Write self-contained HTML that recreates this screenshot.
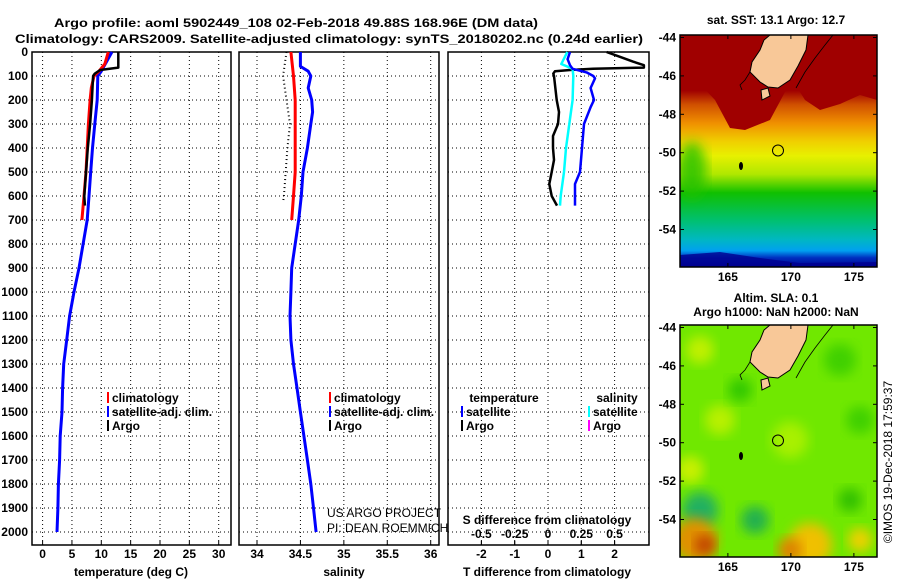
<!DOCTYPE html>
<html><head><meta charset="utf-8">
<style>
body{margin:0;background:#fff;}
svg{display:block;font-family:"Liberation Sans",sans-serif;}
.b{font-weight:bold;font-size:12px;}
</style></head>
<body>
<svg id="chart" width="900" height="580" viewBox="0 0 900 580" xmlns="http://www.w3.org/2000/svg">
<defs>
<linearGradient id="sstg" x1="0" y1="0" x2="0" y2="1">
<stop offset="0" stop-color="#a00000"/>
<stop offset="0.24" stop-color="#a00000"/>
<stop offset="0.3" stop-color="#d05000"/>
<stop offset="0.38" stop-color="#f09000"/>
<stop offset="0.46" stop-color="#f0d000"/>
<stop offset="0.52" stop-color="#e8f000"/>
<stop offset="0.6" stop-color="#b0e800"/>
<stop offset="0.68" stop-color="#10c000"/>
<stop offset="0.8" stop-color="#00c070"/>
<stop offset="0.88" stop-color="#00b8c0"/>
<stop offset="0.93" stop-color="#00a0f0"/>
<stop offset="0.96" stop-color="#0030c0"/>
<stop offset="1" stop-color="#000090"/>
</linearGradient>
<filter id="blur" x="-20%" y="-20%" width="140%" height="140%"><feGaussianBlur stdDeviation="6"/></filter>
<clipPath id="m1c"><rect x="680" y="35" width="197" height="232"/></clipPath>
<clipPath id="m2c"><rect x="680" y="325" width="197" height="232"/></clipPath>
</defs>
<text x="54" y="27" class="b" font-size="13" textLength="484" lengthAdjust="spacingAndGlyphs">Argo profile: aoml 5902449_108 02-Feb-2018 49.88S 168.96E (DM data)</text>
<text x="15" y="43" class="b" font-size="13" textLength="628" lengthAdjust="spacingAndGlyphs">Climatology: CARS2009. Satellite-adjusted climatology: synTS_20180202.nc (0.24d earlier)</text>
<g id="plots"></g>
<g id="maps"></g>
</svg>
<script>
// ---- data ----
const tempSatDepth = [0,80,100,200,300,400,500,600,700,800,900,1000,1100,1200,1300,1400,1500,1600,1700,1800,1900,2000];
const tempSatVal   = [11.8,10,9.4,9.3,8.9,8.5,8.2,7.9,7.6,6.9,6.2,5.35,4.6,4.1,3.6,3.4,3.3,3.0,2.9,2.7,2.6,2.45];
const tempClimDepth = [0,50,80,100,150,200,300,400,500,600,700];
const tempClimVal   = [11.2,10.6,9.6,8.75,8.3,8.1,7.8,7.6,7.4,7.05,6.7];
const tempArgoDepth = [0,65,75,90,100,200,300,400,500,600,640];
const tempArgoVal   = [12.9,12.9,9.8,8.9,8.6,8.4,8.1,7.7,7.4,7.1,7.2];
const salClimDepth = [0,100,200,300,400,500,600,700];
const salClimVal   = [34.39,34.42,34.44,34.44,34.44,34.44,34.42,34.40];
const salSatDepth = [0,60,80,100,150,200,250,300,400,500,600,700,800,900,1000,1100,1200,1300,1400,1500,1600,1700,1800,1900,2000];
const salSatVal   = [34.5,34.5,34.59,34.62,34.59,34.63,34.64,34.62,34.58,34.53,34.51,34.48,34.44,34.40,34.39,34.38,34.39,34.42,34.46,34.50,34.54,34.58,34.62,34.65,34.68];
const salArgoDepth = [0,100,200,300,400,500,600,625];
const salArgoVal   = [34.34,34.30,34.34,34.38,34.35,34.33,34.31,34.30];
const dTArgoDepth = [0,20,40,55,65,70,75,80,90,100,200,250,300,350,400,450,500,550,600,640];
const dTArgoVal   = [1.76,2.16,2.55,2.88,2.88,1.35,0.66,0.21,0.16,0.18,0.26,0.33,0.30,0.15,0.15,0.18,0.11,0.04,0.11,0.27];
const dTSatDepth = [0,30,55,70,85,100,110,150,200,230,300,400,500,550,640];
const dTSatVal   = [0.66,0.59,0.66,0.74,1.16,1.36,1.41,1.28,1.38,1.28,1.08,1.02,0.96,0.81,0.81];
const dSSatDepth = [0,50,70,100,200,300,400,500,600,640];
const dSSatVal   = [0.145,0.10,0.185,0.19,0.185,0.16,0.135,0.12,0.095,0.09];
const depthTicks = [0,100,200,300,400,500,600,700,800,900,1000,1100,1200,1300,1400,1500,1600,1700,1800,1900,2000];
const tempTicks = [0,5,10,15,20,25,30];
const salTicks = [34,34.5,35,35.5,36];
const salTickLabels = ["34","34.5","35","35.5","36"];
const dTTicks = [-2,-1,0,1,2];
const dSTicks = [-0.5,-0.25,0,0.25,0.5];
const dSTickLabels = ["-0.5","-0.25","0","0.25","0.5"];
const latTicks = [-44,-46,-48,-50,-52,-54];
const lonTicks = [165,170,175];

// ---- axes ----
const NS="http://www.w3.org/2000/svg";
const yD = d => 52 + d*0.24;
const xT = t => 42.6 + t*5.87;
const xS = s => 257 + (s-34)*86.85;
const xDT = v => 548 + v*33.3;
const xDS = v => 548 + v*133.2;
const lon2x = l => 680 + (l-161.2)*12.6;

function mk(tag, attrs, parent){const e=document.createElementNS(NS,tag);for(const k in attrs)e.setAttribute(k,attrs[k]);(parent||G).appendChild(e);return e;}
const G=document.getElementById('plots');
const panels=[{x0:32,x1:231,name:'temperature-panel'},{x0:239,x1:439,name:'salinity-panel'},{x0:448,x1:649,name:'difference-panel'}];
const TOP=52,BOT=545;

function gridV(xs){xs.forEach(x=>{const l=mk('line',{x1:x,x2:x,y1:TOP,y2:BOT,stroke:'#000','stroke-width':1,'stroke-dasharray':'1,3'});

});}
function gridH(p){depthTicks.forEach(d=>{if(d===0)return;const l=mk('line',{x1:p.x0,x2:p.x1,y1:yD(d),y2:yD(d),stroke:'#000','stroke-width':1,'stroke-dasharray':'1,3'});

});}
panels.forEach(p=>{gridH(p);});
gridV(tempTicks.map(xT));
gridV(salTicks.map(xS));
gridV(dTTicks.map(xDT));
panels.forEach(p=>{
 const r=mk('rect',{x:p.x0,y:TOP,width:p.x1-p.x0,height:BOT-TOP,fill:'none',stroke:'#000','stroke-width':1.5});
 
 
});
depthTicks.forEach(d=>{const t=mk('text',{x:28,y:yD(d)+4,'text-anchor':'end',class:'b'});t.textContent=d;

});
function xlabels(ticks,labels,fx,y){ticks.forEach((v,i)=>{const t=mk('text',{x:fx(v),y:y,'text-anchor':'middle',class:'b'});t.textContent=labels?labels[i]:v;


mk('line',{x1:fx(v),x2:fx(v),y1:BOT,y2:BOT-4,stroke:'#000'});});}
xlabels(tempTicks,null,xT,558);
xlabels(salTicks,salTickLabels,xS,558);
xlabels(dTTicks,null,xDT,558);
xlabels(dSTicks,dSTickLabels,xDS,538);
function title(x,y,s,n){const t=mk('text',{x:x,y:y,'text-anchor':'middle',class:'b'});t.textContent=s;

}
title(131,576,'temperature (deg C)','x-axis-title-temperature');
title(344,576,'salinity','x-axis-title-salinity');
title(547,576,'T difference from climatology','x-axis-title-t-difference');
title(547,524,'S difference from climatology','axis-title-s-difference');

function line(ds,vs,fx,color,w,dash,name){
 const pts=ds.map((d,i)=>fx(vs[i]).toFixed(1)+','+yD(d).toFixed(1)).join(' ');
 const a={points:pts,fill:'none',stroke:color,'stroke-width':w,'stroke-linejoin':'round'};
 if(dash)a['stroke-dasharray']=dash;
 const l=mk('polyline',a);
 
 
}
line(tempSatDepth,tempSatVal,xT,'#0000ff',3,null,'temperature-satellite-line');
line(tempClimDepth,tempClimVal,xT,'#ff0000',3,null,'temperature-climatology-line');
line(tempArgoDepth,tempArgoVal,xT,'#000',2.5,null,'temperature-argo-line');
line(salSatDepth,salSatVal,xS,'#0000ff',3,null,'salinity-satellite-line');
line(salClimDepth,salClimVal,xS,'#ff0000',3,null,'salinity-climatology-line');
line(salArgoDepth,salArgoVal,xS,'#000',2,'1,3','salinity-argo-line');
line(dTArgoDepth,dTArgoVal,xDT,'#000',2.5,null,'t-diff-argo-line');
line(dSSatDepth,dSSatVal,xDS,'#00ffff',2.5,null,'s-diff-satellite-line');
line(dTSatDepth,dTSatVal,xDT,'#0000ff',2.5,null,'t-diff-satellite-line');

function legendItem(x,y,color,s,n){
 mk('line',{x1:x,x2:x,y1:y-10,y2:y+1,stroke:color,'stroke-width':2});
 const t=mk('text',{x:x+4,y:y,class:'b'});t.textContent=s;
 
 
}
legendItem(108,402,'#ff0000','climatology','legend-climatology');
legendItem(108,416,'#0000ff','satellite-adj. clim.','legend-satellite-adj');
legendItem(108,430,'#000','Argo','legend-argo');
legendItem(330,402,'#ff0000','climatology','legend-sal-climatology');
legendItem(330,416,'#0000ff','satellite-adj. clim.','legend-sal-satellite-adj');
legendItem(330,430,'#000','Argo','legend-sal-argo');
title(504,402,'temperature','legend-header-temperature');
title(617,402,'salinity','legend-header-salinity');
legendItem(462,416,'#0000ff','satellite','legend-t-satellite');
legendItem(462,430,'#000','Argo','legend-t-argo');
legendItem(589,416,'#00ffff','satellite','legend-s-satellite');
legendItem(589,430,'#ff00ff','Argo','legend-s-argo');
const c1=mk('text',{x:327,y:517,'font-size':12});c1.textContent='US ARGO PROJECT';


const c2=mk('text',{x:327,y:532,'font-size':12});c2.textContent='PI: DEAN ROEMMICH';



// ---- maps ----
const M=document.getElementById('maps');
function land(top,g){
 const o=top-35;
 const p=mk('polygon',{points:`770,${35+o} 808,${35+o} 806,${50+o} 798,${66+o} 790,${80+o} 778,${88+o} 768,${87+o} 760,${82+o} 750,${72+o} 752,${62+o} 760,${50+o} 764,${40+o}`,fill:'#f8c898',stroke:'#000','stroke-width':1},g);
 
 
 mk('polygon',{points:`761,${90+o} 768,${88+o} 770,${96+o} 762,${100+o}`,fill:'#f8c898',stroke:'#000'},g);
 mk('polyline',{points:`833,${35+o} 825,${45+o} 815,${58+o} 805,${72+o} 796,${88+o}`,fill:'none',stroke:'#000','stroke-width':0.8},g);
 mk('polyline',{points:`750,${72+o} 745,${80+o} 740,${85+o} 742,${90+o}`,fill:'none',stroke:'#000','stroke-width':0.8},g);
 mk('ellipse',{cx:741,cy:166+o,rx:2,ry:4,fill:'#000'},g);
 mk('circle',{cx:778,cy:150.5+o,r:5.5,fill:'none',stroke:'#000','stroke-width':1},g);
}
function mapAxes(top,name){
 const f=mk('rect',{x:680,y:top,width:197,height:232,fill:'none',stroke:'#000','stroke-width':1.5},M);
 
 
 latTicks.forEach(l=>{const y=top+2.5+(-44-l)*19.2;const t=mk('text',{x:676,y:y+4,'text-anchor':'end',class:'b'},M);t.textContent=l;
 
 
 mk('line',{x1:680,x2:684,y1:y,y2:y,stroke:'#000'},M);mk('line',{x1:873,x2:877,y1:y,y2:y,stroke:'#000'},M);});
 lonTicks.forEach(l=>{const x=lon2x(l);const t=mk('text',{x:x,y:top+246,'text-anchor':'middle',class:'b'},M);t.textContent=l;
 
 
 mk('line',{x1:x,x2:x,y1:top,y2:top+4,stroke:'#000'},M);mk('line',{x1:x,x2:x,y1:top+228,y2:top+232,stroke:'#000'},M);});
}
// map 1: SST
const g1=mk('g',{'clip-path':'url(#m1c)'},M);


mk('rect',{x:680,y:35,width:197,height:232,fill:'url(#sstg)'},g1);
mk('ellipse',{cx:692,cy:170,rx:14,ry:28,fill:'#20c000',opacity:0.8,filter:'url(#blur)'},g1);
mk('polygon',{points:'680,82 700,84 715,100 730,128 745,130 770,120 785,92 795,84 805,100 820,110 840,104 860,95 877,100 877,35 680,35',fill:'#a00000'},g1);
mk('polygon',{points:'680,255 720,252 760,258 800,263 877,262 877,267 680,267',fill:'#000090',opacity:0.8},g1);
land(35,g1);
mapAxes(35,'sst-map');
// map 2: SLA
const g2=mk('g',{'clip-path':'url(#m2c)'},M);


mk('rect',{x:680,y:325,width:197,height:232,fill:'#70e800'},g2);
const blobs=[[700,350,14,'#c0f000'],[840,360,16,'#40d000'],[720,420,15,'#b8f000'],[790,440,18,'#a8f000'],[860,420,14,'#40d000'],[690,470,14,'#c8f000'],[700,510,18,'#20b060'],[695,540,22,'#e09000'],[705,545,10,'#c04000'],[810,545,22,'#f0c000'],[790,550,12,'#e08000'],[860,540,12,'#f0d000'],[755,520,14,'#20b050'],[850,500,12,'#30c000'],[740,390,12,'#30c800']];
blobs.forEach(b=>{mk('circle',{cx:b[0],cy:b[1],r:b[2],fill:b[3],filter:'url(#blur)'},g2);});
land(325,g2);
mapAxes(325,'sla-map');
function mt(x,y,s,n){const t=mk('text',{x:x,y:y,'text-anchor':'middle',class:'b'},M);t.textContent=s;

}
mt(776,24,'sat. SST: 13.1 Argo: 12.7','sst-map-title');
mt(776,302,'Altim. SLA: 0.1','sla-map-title');
mt(776,316,'Argo h1000: NaN h2000: NaN','argo-height-title');
const im=mk('text',{x:0,y:0,'font-size':12,'text-anchor':'middle',transform:'translate(892,462) rotate(-90)'},M);
im.textContent='©IMOS 19-Dec-2018 17:59:37';


</script>
</body></html>
